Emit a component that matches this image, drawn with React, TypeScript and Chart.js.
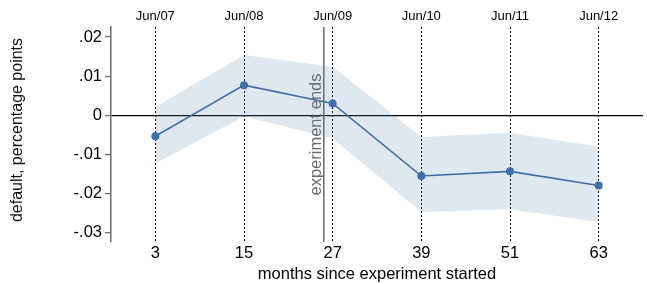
import { useEffect, useRef } from "react";
import { Chart, registerables } from "chart.js";

Chart.register(...registerables);

const MONTHS = [3, 15, 27, 39, 51, 63];
const DATES = ["Jun/07", "Jun/08", "Jun/09", "Jun/10", "Jun/11", "Jun/12"];
const ESTIMATE = [-0.0054, 0.0077, 0.003, -0.0156, -0.0144, -0.018];
const CI_UPPER = [0.0021, 0.0154, 0.0124, -0.0056, -0.0045, -0.0081];
const CI_LOWER = [-0.0124, -0.0003, -0.006, -0.0248, -0.0241, -0.0274];
const Y_TICKS = [0.02, 0.01, 0, -0.01, -0.02, -0.03];
const Y_TICK_LABELS = [".02", ".01", "0", "-.01", "-.02", "-.03"];
const EXPERIMENT_END = 25.8;
const X_MIN = -3;
const X_MAX = 69;
const Y_MIN = -0.0325;
const Y_MAX = 0.0226;

const FONT = "'Liberation Sans', Arial, Helvetica, sans-serif";
const LINE_COLOR = "#3e6fa8";
const BAND_COLOR = "rgba(95,135,175,0.2)";

export default function App() {
  const ref = useRef<HTMLCanvasElement | null>(null);

  useEffect(() => {
    if (!ref.current) return;
    const pts = (ys: number[]) => MONTHS.map((m, i) => ({ x: m, y: ys[i] }));

    const annotation = {
      id: "expEnds",
      afterDatasetsDraw(chart: any) {
        const { ctx, chartArea, scales } = chart;
        const x = scales.x.getPixelForValue(EXPERIMENT_END);
        const midY = (chartArea.top + chartArea.bottom) / 2;
        ctx.save();
        ctx.translate(x - 2.5, midY);
        ctx.rotate(-Math.PI / 2);
        ctx.font = `16.5px ${FONT}`;
        ctx.fillStyle = "#6a6a6a";
        ctx.textAlign = "center";
        ctx.textBaseline = "alphabetic";
        ctx.fillText("experiment ends", 0, 0);
        ctx.restore();

        ctx.save();
        ctx.translate(17.5, midY - 4.5);
        ctx.rotate(-Math.PI / 2);
        ctx.font = `16px ${FONT}`;
        ctx.fillStyle = "#111";
        ctx.textAlign = "center";
        ctx.textBaseline = "middle";
        ctx.fillText("default, percentage points", 0, 0);
        ctx.restore();
      },
    };

    const chart = new Chart(ref.current, {
      type: "line",
      data: {
        datasets: [
          {
            label: "estimate",
            data: pts(ESTIMATE),
            borderColor: LINE_COLOR,
            backgroundColor: LINE_COLOR,
            borderWidth: 1.6,
            pointRadius: 4,
            pointBorderWidth: 0,
            pointBackgroundColor: LINE_COLOR,
            fill: false,
            tension: 0,
          },
          {
            label: "end",
            data: [
              { x: EXPERIMENT_END, y: Y_MIN },
              { x: EXPERIMENT_END, y: Y_MAX },
            ],
            borderColor: "#6a6a6a",
            borderWidth: 1.5,
            pointRadius: 0,
            fill: false,
          },
          {
            label: "upper",
            data: pts(CI_UPPER),
            borderWidth: 0,
            borderColor: "rgba(0,0,0,0)",
            backgroundColor: BAND_COLOR,
            pointRadius: 0,
            fill: "+1",
            tension: 0,
          },
          {
            label: "lower",
            data: pts(CI_LOWER),
            borderWidth: 0,
            borderColor: "rgba(0,0,0,0)",
            pointRadius: 0,
            fill: false,
            tension: 0,
          },
        ],
      },
      options: {
        responsive: false,
        animation: false,
        layout: { padding: { left: 0, right: 1, top: 0, bottom: 0 } },
        plugins: {
          legend: { display: false },
          tooltip: { enabled: false },
        },
        scales: {
          x: {
            type: "linear",
            position: "bottom",
            min: X_MIN,
            max: X_MAX,
            afterBuildTicks: (s: any) => {
              s.ticks = MONTHS.map((v) => ({ value: v }));
            },
            afterFit: (s: any) => {
              s.height = 42;
            },
            ticks: {
              autoSkip: false,
              maxRotation: 0,
              padding: 2,
              color: "#000",
              font: { family: FONT, size: 16.5 },
              callback: (v: any) => String(v),
            },
            grid: {
              color: "#000",
              lineWidth: 1,
              drawTicks: false,
              drawOnChartArea: true,
            },
            border: { display: false, dash: [2, 2] },
            title: {
              display: true,
              text: "months since experiment started",
              color: "#000",
              font: { family: FONT, size: 16.5 },
              padding: { top: 2, bottom: 0 },
            },
          },
          x2: {
            type: "linear",
            position: "top",
            min: X_MIN,
            max: X_MAX,
            afterBuildTicks: (s: any) => {
              s.ticks = MONTHS.map((v) => ({ value: v }));
            },
            afterFit: (s: any) => {
              s.height = 27;
            },
            ticks: {
              autoSkip: false,
              maxRotation: 0,
              padding: 3,
              color: "#000",
              font: { family: FONT, size: 13 },
              callback: (v: any) => DATES[MONTHS.indexOf(Number(v))] ?? "",
            },
            grid: { display: false, drawTicks: false },
            border: { display: false },
          },
          y: {
            type: "linear",
            min: Y_MIN,
            max: Y_MAX,
            afterBuildTicks: (s: any) => {
              s.ticks = Y_TICKS.map((v) => ({ value: v }));
            },
            afterFit: (s: any) => {
              s.width = 111;
            },
            ticks: {
              autoSkip: false,
              padding: 3,
              color: "#000",
              font: { family: FONT, size: 16.5 },
              callback: (v: any) => {
                const i = Y_TICKS.findIndex((t) => Math.abs(t - Number(v)) < 1e-9);
                return i >= 0 ? Y_TICK_LABELS[i] : "";
              },
            },
            grid: {
              color: (c: any) =>
                c.tick && Math.abs(c.tick.value) < 1e-9 ? "#000" : "rgba(0,0,0,0)",
              lineWidth: 1.3,
              drawTicks: true,
              tickLength: 6,
              tickColor: "#6a6a6a",
              tickWidth: 1.2,
            },
            border: { display: true, color: "#6a6a6a", width: 1.5 },
            title: { display: false },
          },
        },
      },
      plugins: [annotation],
    } as any);

    return () => chart.destroy();
  }, []);

  return (
    <div style={{ position: "fixed", left: 0, top: 0, width: 647, height: 284, background: "#fff" }}>
      <canvas ref={ref} width={647} height={284} />
    </div>
  );
}
